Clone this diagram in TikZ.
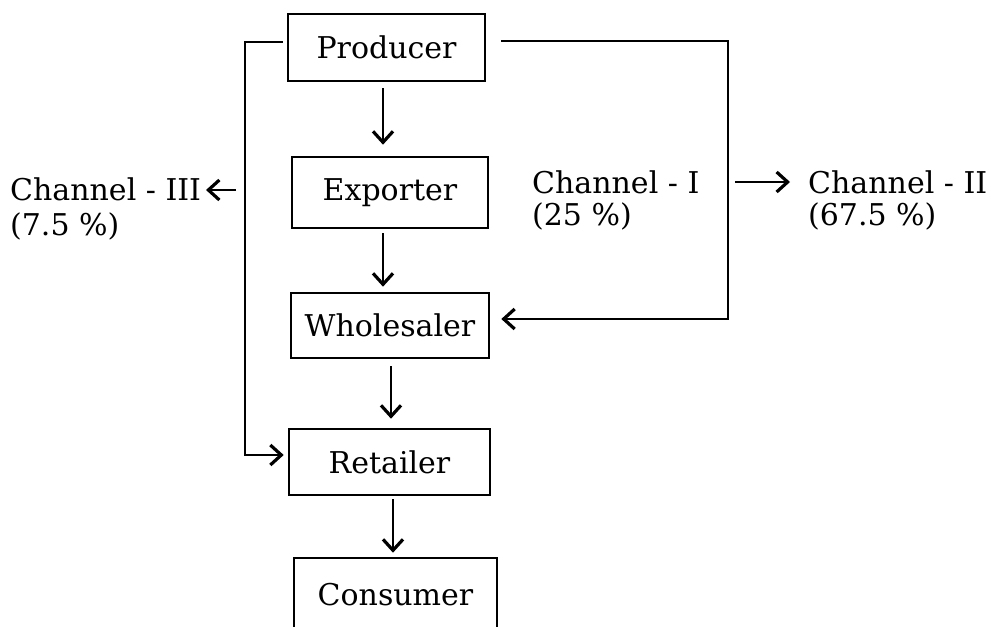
\documentclass[tikz,border=0pt]{standalone}
\usepackage{fontspec}
\setmainfont{DejaVu Serif}
\usetikzlibrary{arrows.meta}
\begin{document}
\begin{tikzpicture}[x=1pt,y=-1pt,
  box/.style={draw,line width=2.6pt,inner sep=0pt,font=\fontsize{30}{34}\selectfont},
  lbl/.style={inner sep=0pt,anchor=base west,font=\fontsize{30}{34}\selectfont},
  conn/.style={line width=2.6pt},
  arr/.style={line width=2.6pt,-{Straight Barb[length=11pt,width=20pt,line width=3.2pt]}}]
\clip (0,0) rectangle (1000,626);
\fill[white] (0,0) rectangle (1000,626);
% boxes
\node[box,minimum width=197pt,minimum height=67pt] (P) at (386.5,47.5) {Producer};
\node[box,minimum width=196pt,minimum height=71pt] (E) at (390,192.5) {Exporter};
\node[box,minimum width=198pt,minimum height=65pt] (W) at (390,325.5) {Wholesaler};
\node[box,minimum width=201pt,minimum height=66pt] (R) at (389.5,462) {Retailer};
\node[box,minimum width=203pt,minimum height=74pt] (C) at (395.5,595) {Consumer};
% labels
\node[lbl] (c3a) at (10,200) {Channel - III};
\node[lbl] (c3b) at (10,235) {(7.5 \%)};
\node[lbl] (c1a) at (532,193) {Channel - I};
\node[lbl] (c1b) at (532,225) {(25 \%)};
\node[lbl] (c2a) at (808,193) {Channel - II};
\node[lbl] (c2b) at (808,225) {(67.5 \%)};
% helper coordinates
\coordinate (x1) at (383,0);
\coordinate (x2) at (391,0);
\coordinate (x3) at (393,0);
\coordinate (l1) at (245,42);
\coordinate (l2) at (245,455);
\coordinate (r1) at (728,41);
\coordinate (r2) at (728,319);
\coordinate (a3s) at (236,190);
\coordinate (a3e) at (206,190);
\coordinate (a2s) at (735,182);
\coordinate (a2e) at (790,182);
% vertical flow arrows
\draw[arr,shorten <=6pt,shorten >=11pt] (P.south -| x1) -- (E.north -| x1);
\draw[arr,shorten <=4pt,shorten >=5pt] (E.south -| x1) -- (W.north -| x1);
\draw[arr,shorten <=7pt,shorten >=9pt] (W.south -| x2) -- (R.north -| x2);
\draw[arr,shorten <=3pt,shorten >=4pt] (R.south -| x3) -- (C.north -| x3);
% channel III loop
\draw[arr,shorten <=4pt,shorten >=4pt] (P.west |- l1) -- (l1) -- (l2) -- (R.west |- l2);
\draw[arr] (a3s) -- (a3e);
% channel I loop
\draw[arr,shorten <=15pt,shorten >=11pt] (P.east |- r1) -- (r1) -- (r2) -- (W.east |- r2);
\draw[arr] (a2s) -- (a2e);
\end{tikzpicture}
\end{document}
